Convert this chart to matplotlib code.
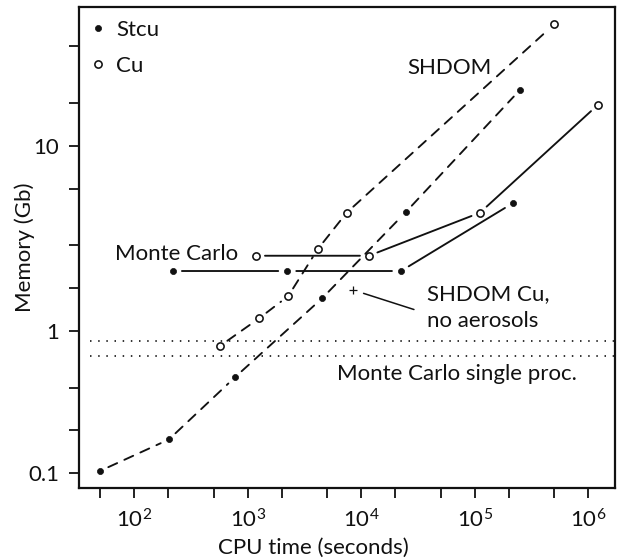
import matplotlib
matplotlib.use("Agg")
import matplotlib.pyplot as plt
from matplotlib.lines import Line2D
from matplotlib.ticker import FixedLocator, FixedFormatter, NullFormatter

plt.rcParams['font.family'] = ['Lato', 'DejaVu Sans']
plt.rcParams['mathtext.fontset'] = 'custom'
plt.rcParams['mathtext.rm'] = 'Lato'
plt.rcParams['mathtext.it'] = 'Lato:italic'
plt.rcParams['mathtext.bf'] = 'Lato:bold'

# ---------------- data ----------------
shdom_stcu_cpu = [50, 202, 771, 4530, 24600, 250000]
shdom_stcu_mem = [0.104, 0.173, 0.473, 1.70, 6.83, 49.4]

shdom_cu_cpu = [569, 1263, 2274, 4129, 7435, 501600]
shdom_cu_mem = [0.785, 1.23, 1.76, 3.75, 6.78, 143]

mc_stcu_cpu = [219, 2228, 22380, 215800]
mc_stcu_mem = [2.64, 2.64, 2.64, 7.90]

mc_cu_cpu = [1181, 11690, 111100, 1210000]
mc_cu_mem = [3.38, 3.38, 6.78, 38.7]

shdom_cu_noaer_cpu = [8500]
shdom_cu_noaer_mem = [1.94]

mc_single_proc_mem = [0.85, 0.667]
mc_single_proc_cpu_range = [41, 2.5e6]

x_major = [1e2, 1e3, 1e4, 1e5, 1e6]
x_minor = [50, 200, 500, 2e3, 5e3, 2e4, 5e4, 2e5, 5e5]
y_major = [0.1, 1, 20]
y_major_labels = ['0.1', '1', '10']
y_minor = [0.2, 0.4, 2, 4, 10, 40, 100]

INK = '#111111'
FS = 16
LW = 1.35
GAP = 6.5  # points

fig = plt.figure(figsize=(6.18, 5.6), dpi=100)
ax = fig.add_axes([79/618, (560-488.3)/560, 536/618, 481.6/560])
ax.set_xscale('log')
ax.set_yscale('log')
ax.set_xlim(32.6, 1.72e6)
ax.set_ylim(0.0785, 190)

def connect(xs, ys, ls):
    for i in range(len(xs) - 1):
        ax.annotate('', xy=(xs[i+1], ys[i+1]), xytext=(xs[i], ys[i]),
                    xycoords='data', textcoords='data',
                    arrowprops=dict(arrowstyle='-', shrinkA=GAP, shrinkB=GAP,
                                    lw=LW, ls=ls, color=INK))

dash = (0, (5.2, 4.2))
connect(shdom_stcu_cpu, shdom_stcu_mem, dash)
connect(shdom_cu_cpu, shdom_cu_mem, dash)
connect(mc_stcu_cpu, mc_stcu_mem, '-')
connect(mc_cu_cpu, mc_cu_mem, '-')

filled = dict(ls='none', marker='o', ms=4.4, mfc=INK, mec=INK, mew=0.5, zorder=5)
opened = dict(ls='none', marker='o', ms=5.2, mfc='white', mec=INK, mew=1.15, zorder=5)
ax.plot(shdom_stcu_cpu, shdom_stcu_mem, **filled)
ax.plot(mc_stcu_cpu, mc_stcu_mem, **filled)
ax.plot(shdom_cu_cpu, shdom_cu_mem, **opened)
ax.plot(mc_cu_cpu, mc_cu_mem, **opened)
ax.plot(shdom_cu_noaer_cpu, shdom_cu_noaer_mem, ls='none', marker='+',
        ms=5.5, mew=0.9, color=INK, zorder=5)

for y in mc_single_proc_mem:
    ax.hlines(y, mc_single_proc_cpu_range[0], mc_single_proc_cpu_range[1],
              colors=INK, lw=1.2, linestyles=[(0, (0.9, 4.0))])

# pointer line from the "+" to its label
ax.annotate('', xy=(shdom_cu_noaer_cpu[0], shdom_cu_noaer_mem[0]),
            xytext=(29130, 1.416), xycoords='data', textcoords='data',
            arrowprops=dict(arrowstyle='-', shrinkA=0, shrinkB=7.8,
                            lw=1.1, color=INK))

# ---------------- texts ----------------
tkw = dict(transform=ax.transAxes, fontsize=FS, color=INK, va='baseline', ha='left')
ax.text(0.7705, 0.8603, 'SHDOM', **{**tkw, 'ha': 'right'})
ax.text(0.0672, 0.4740, 'Monte Carlo', **tkw)
ax.text(0.6498, 0.3910, 'SHDOM Cu,', **tkw)
ax.text(0.6498, 0.3355, 'no aerosols', **tkw)
ax.text(0.4808, 0.2249, 'Monte Carlo single proc.', **tkw)

# legend
handles = [Line2D([], [], **{k: v for k, v in filled.items() if k != 'zorder'}),
           Line2D([], [], **{k: v for k, v in opened.items() if k != 'zorder'})]
leg = ax.legend(handles, ['Stcu', 'Cu'], loc='upper left',
                bbox_to_anchor=(10.4/536, 1 - 13/481.6), frameon=False,
                fontsize=FS, handlelength=0.8, handletextpad=0.4,
                borderaxespad=0, borderpad=0, labelspacing=0.72)
for t in leg.get_texts():
    t.set_color(INK)

# ---------------- axes ----------------
ax.xaxis.set_major_locator(FixedLocator(x_major))
ax.xaxis.set_minor_locator(FixedLocator(x_minor))
ax.xaxis.set_minor_formatter(NullFormatter())
ax.yaxis.set_major_locator(FixedLocator(y_major))
ax.yaxis.set_major_formatter(FixedFormatter(y_major_labels))
ax.yaxis.set_minor_locator(FixedLocator(y_minor))
ax.yaxis.set_minor_formatter(NullFormatter())

ax.tick_params(which='both', direction='out', length=7.2, width=1.3, color=INK,
               labelsize=FS, labelcolor=INK)
ax.tick_params(axis='x', which='both', pad=7.5)
ax.tick_params(axis='y', which='both', pad=7)
for s in ax.spines.values():
    s.set_linewidth(1.6)
    s.set_color(INK)

ax.set_xlabel('CPU time (seconds)', fontsize=FS, color=INK)
ax.xaxis.set_label_coords(0.4375, -0.103)
ax.set_ylabel('Memory (Gb)', fontsize=FS, color=INK, va='center')
ax.yaxis.set_label_coords(-0.1007, 0.5)

fig.savefig('out.png', dpi=100)
